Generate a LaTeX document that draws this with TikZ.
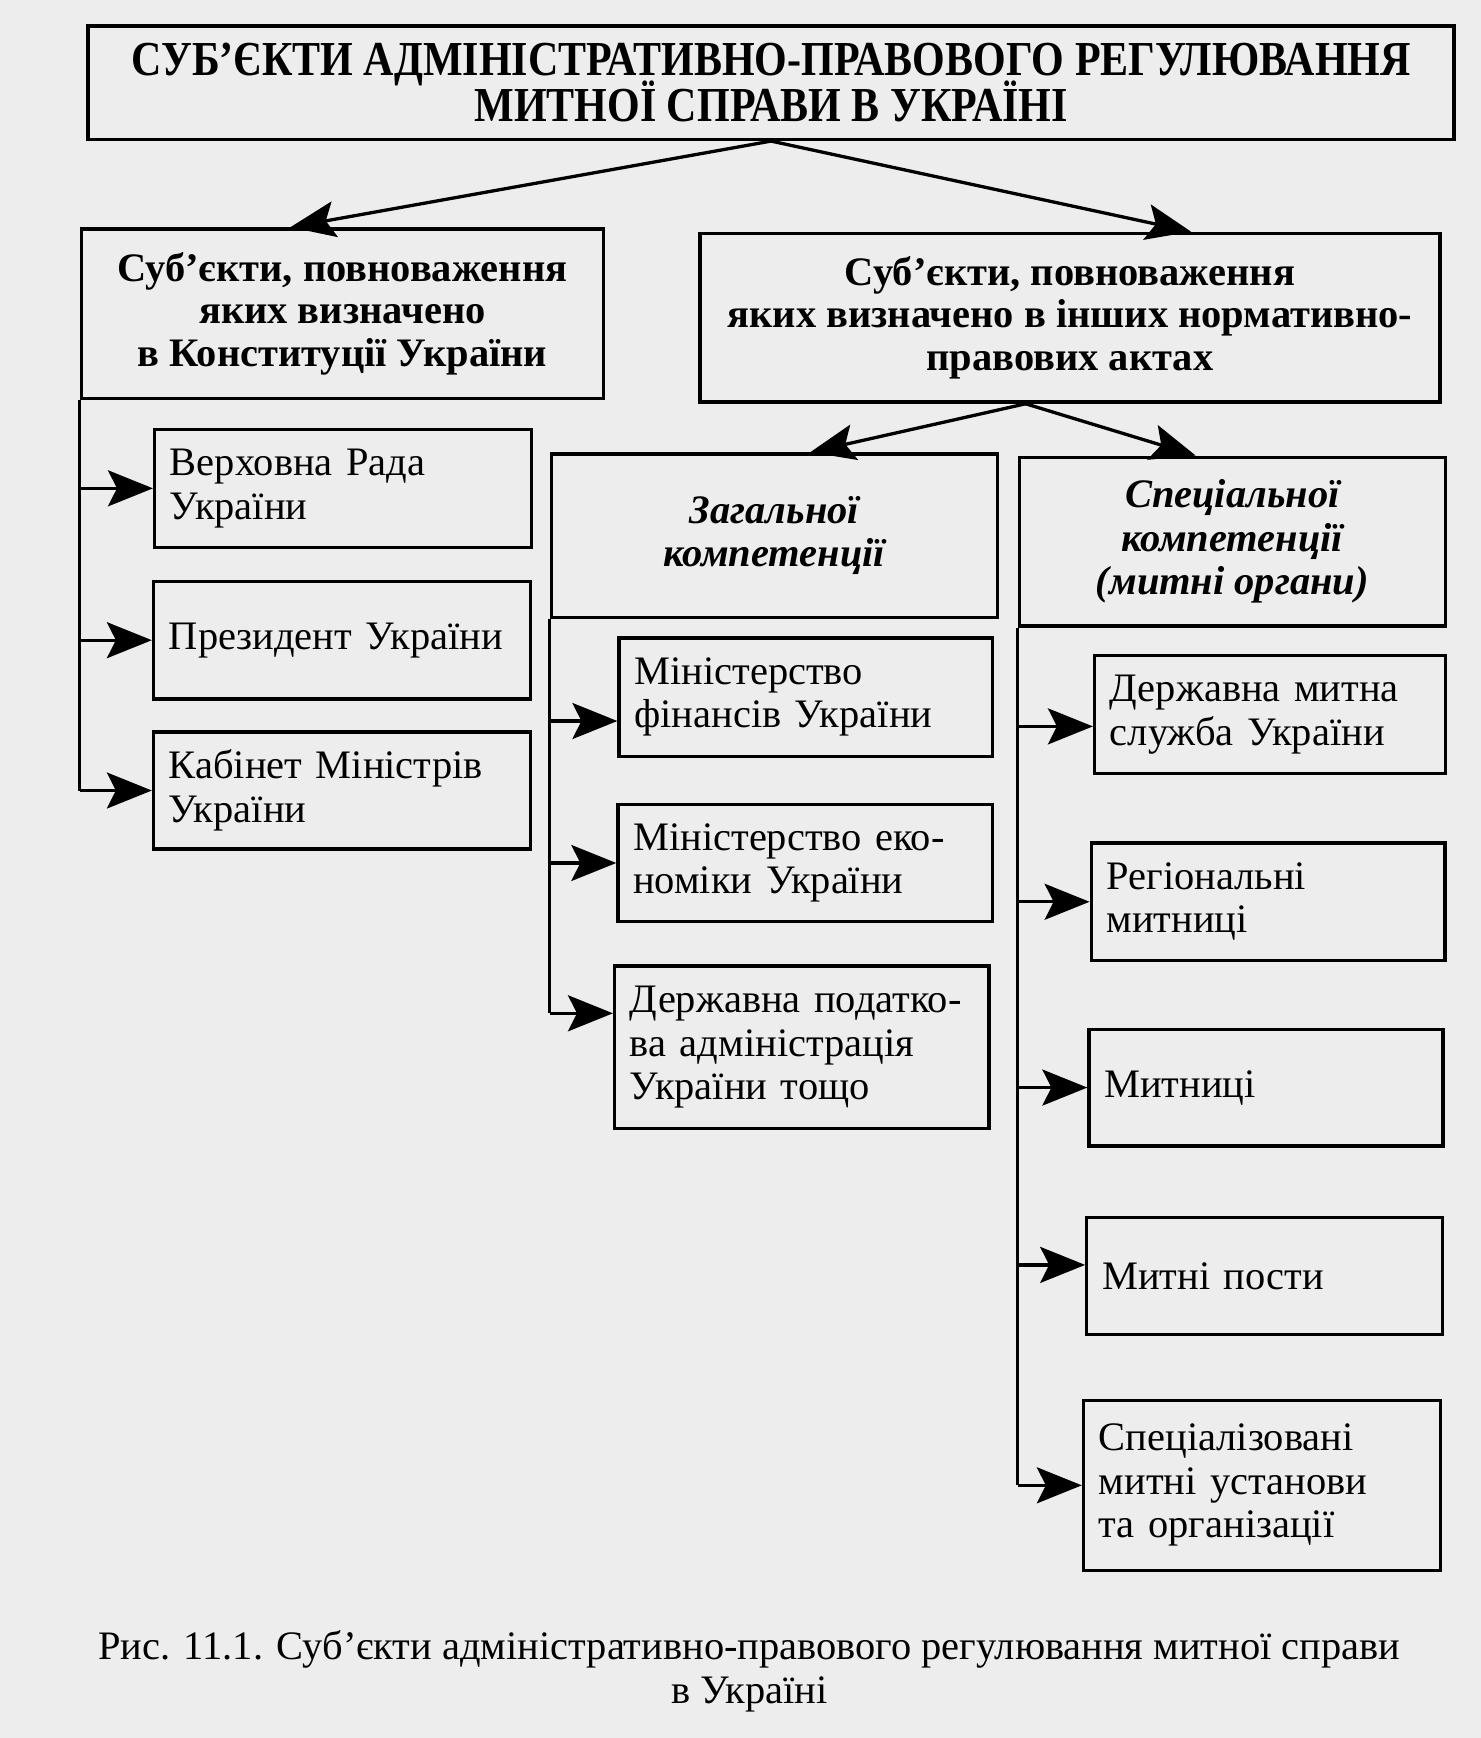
\documentclass[tikz,border=0pt]{standalone}
\usepackage{fontspec}
\setmainfont{Liberation Serif}
\newfontfamily\titlefont[FakeStretch=0.86]{Liberation Serif}
\usetikzlibrary{arrows.meta}

\begin{document}
\begin{tikzpicture}[
    x=0.013cm, y=-0.013cm,
    box/.style={rectangle, draw=black, line width=1.1pt, anchor=north west,
                align=center, inner sep=0pt},
    itembox/.style={rectangle, draw=black, line width=1.1pt, anchor=north west,
                align=left, inner xsep=0.18cm, inner ysep=0pt,
                font=\fontsize{13.5}{14.5}\selectfont},
    headtext/.style={font=\fontsize{13.5}{14.2}\selectfont\bfseries},
    kindtext/.style={font=\fontsize{13.5}{14.5}\selectfont\bfseries\itshape},
    arrow/.style={-{Stealth[length=15pt, width=12pt, inset=3pt]}, line width=1.1pt},
    line/.style={line width=1.1pt}
]

\fill[black!7] (0,0) rectangle (1336,1568);
\useasboundingbox (0,0) rectangle (1336,1568);

%% ЗАГОЛОВОК
\node[box, minimum width=16.02cm, minimum height=1.33cm,
      font={\fontsize{16.3}{15.2}\titlefont\bfseries\lineskiplimit=-\maxdimen}] (title) at (78,22) {
    СУБ’ЄКТИ АДМІНІСТРАТИВНО-ПРАВОВОГО РЕГУЛЮВАННЯ\\
    МИТНОЇ СПРАВИ В УКРАЇНІ
};

%% ДВІ ГРУПИ
\node[box, headtext, minimum width=6.12cm, minimum height=1.99cm] (constit) at (72,205) {
    Суб’єкти, повноваження\\
    яких визначено\\
    в Конституції України
};

\node[box, headtext, minimum width=8.68cm, minimum height=1.98cm] (other) at (630,209) {
    Суб’єкти, повноваження\\
    яких визначено в інших нормативно-\\
    правових актах
};

\draw[arrow] (title.south) -- ([xshift=-0.61cm]constit.north);
\draw[arrow] (title.south) -- ([xshift=1.42cm]other.north);

%% КОНСТИТУЦІЯ
\node[itembox, text width=4.06cm, minimum height=1.38cm] (verkh) at (138,386) {
    Верховна Рада\\
    України
};
\node[itembox, text width=4.06cm, minimum height=1.38cm] (prez) at (137,523) {
    Президент України
};
\node[itembox, text width=4.06cm, minimum height=1.37cm] (kabinet) at (137,659) {
    Кабінет Міністрів\\
    України
};

\draw[line] (constit.south west) -- (constit.south west |- kabinet.west);
\foreach \n in {verkh, prez, kabinet}
    \draw[arrow] (constit.south west |- \n.west) -- (\n.west);

%% ЗАГАЛЬНОЇ / СПЕЦІАЛЬНОЇ
\node[box, kindtext, minimum width=5.23cm, minimum height=1.92cm] (zahal) at (496,408) {
    Загальної\\
    компетенції
};
\node[box, kindtext, minimum width=5.0cm, minimum height=1.98cm] (spec) at (918,411) {
    Спеціальної\\
    компетенції\\
    (митні органи)
};

\draw[arrow] ([xshift=-0.52cm]other.south) -- ([xshift=0.42cm]zahal.north);
\draw[arrow] ([xshift=-0.52cm]other.south) -- ([xshift=-0.43cm]spec.north);

%% ЗАГАЛЬНОЇ КОМПЕТЕНЦІЇ
\node[itembox, text width=4.02cm, minimum height=1.39cm] (minfin) at (557,574) {
    Міністерство\\
    фінансів України
};
\node[itembox, text width=4.03cm, minimum height=1.38cm] (minekon) at (556,724) {
    Міністерство еко-\\
    номіки України
};
\node[itembox, text width=4.03cm, minimum height=1.91cm] (dpa) at (553,870) {
    Державна податко-\\
    ва адміністрація\\
    України тощо
};

\coordinate (minfin_in) at ([yshift=-0.28cm]minfin.west);
\coordinate (dpa_in) at ([yshift=0.4cm]dpa.west);
\draw[line] (zahal.south west) -- (zahal.south west |- dpa_in);
\draw[arrow] (zahal.south west |- minfin_in) -- (minfin_in);
\draw[arrow] (zahal.south west |- minekon.west) -- (minekon.west);
\draw[arrow] (zahal.south west |- dpa_in) -- (dpa_in);

%% МИТНІ ОРГАНИ
\node[itembox, text width=3.76cm, minimum height=1.38cm] (dmsu) at (986,590) {
    Державна митна\\
    служба України
};
\node[itembox, text width=3.79cm, minimum height=1.38cm] (region) at (983,759) {
    Регіональні\\
    митниці
};
\node[itembox, text width=3.79cm, minimum height=1.37cm] (mytnyci) at (981,927) {
    Митниці
};
\node[itembox, text width=3.81cm, minimum height=1.37cm] (posty) at (979,1097) {
    Митні пости
};
\node[itembox, text width=3.83cm, minimum height=1.99cm] (specinst) at (976,1262) {
    Спеціалізовані\\
    митні установи\\
    та організації
};

\coordinate (dmsu_in) at ([yshift=-0.14cm]dmsu.west);
\coordinate (posty_in) at ([yshift=0.13cm]posty.west);
\draw[line] (spec.south west) -- (spec.south west |- specinst.west);
\foreach \n in {dmsu_in, region.west, mytnyci.west, posty_in, specinst.west}
    \draw[arrow] (spec.south west |- \n) -- (\n);

%% ПІДПИС
\node[align=center, font=\fontsize{13.5}{14.8}\selectfont] (caption) at (676,1508) {
    Рис. 11.1. Суб’єкти адміністративно-правового регулювання митної справи\\
    в Україні
};

\end{tikzpicture}
\end{document}
